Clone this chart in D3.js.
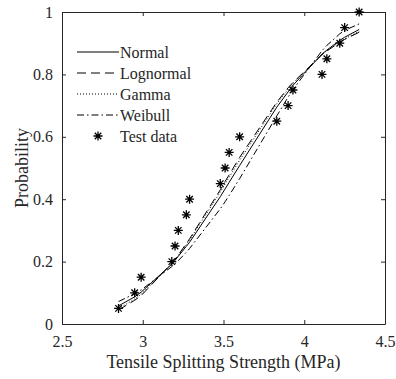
<!DOCTYPE html>
<html>
<head>
<meta charset="utf-8">
<script src="https://cdn.jsdelivr.net/npm/d3@7"></script>
<style>
  body { margin: 0; background: #fff; }
  text { font-family: "Liberation Serif", "Times New Roman", serif; fill: #262626; }
</style>
</head>
<body>
<div id="chart"></div>
<script>
// test data (strength in MPa, empirical probability)
var strength = [2.85, 2.95, 2.99, 3.18, 3.20, 3.22, 3.27, 3.29, 3.48, 3.51,
                3.535, 3.60, 3.83, 3.90, 3.93, 4.11, 4.14, 4.22, 4.25, 4.34];
var testProb = [0.05, 0.10, 0.15, 0.20, 0.25, 0.30, 0.35, 0.40, 0.45, 0.50,
                0.55, 0.60, 0.65, 0.70, 0.75, 0.80, 0.85, 0.90, 0.95, 1.00];

// fitted curves read at the same strengths
var normalProb    = [0.058, 0.087, 0.102, 0.192, 0.204, 0.217, 0.249, 0.262, 0.408, 0.433,
                     0.454, 0.508, 0.695, 0.744, 0.765, 0.865, 0.878, 0.909, 0.919, 0.944];
var lognormalProb = [0.045, 0.076, 0.091, 0.194, 0.208, 0.221, 0.258, 0.273, 0.430, 0.457,
                     0.478, 0.534, 0.711, 0.757, 0.774, 0.863, 0.875, 0.903, 0.912, 0.935];
var gammaProb     = [0.049, 0.080, 0.095, 0.194, 0.206, 0.220, 0.255, 0.269, 0.423, 0.449,
                     0.470, 0.525, 0.706, 0.753, 0.771, 0.864, 0.876, 0.905, 0.914, 0.938];
var weibullProb   = [0.072, 0.097, 0.109, 0.184, 0.193, 0.203, 0.230, 0.242, 0.369, 0.392,
                     0.412, 0.466, 0.667, 0.727, 0.751, 0.876, 0.893, 0.930, 0.941, 0.962];

var xTicks = [2.5, 3, 3.5, 4, 4.5];
var yTicks = [0, 0.2, 0.4, 0.6, 0.8, 1];

var series = [
  {name: "Normal",    values: normalProb,    dash: null},
  {name: "Lognormal", values: lognormalProb, dash: "9,5"},
  {name: "Gamma",     values: gammaProb,     dash: "1,2"},
  {name: "Weibull",   values: weibullProb,   dash: "7,3,1.5,3"}
];

var margin = {top: 12, right: 11, bottom: 55, left: 62},
    width = 396 - margin.left - margin.right,
    height = 379 - margin.top - margin.bottom;

var svg = d3.select("#chart")
  .append("svg")
    .attr("width", 396)
    .attr("height", 379)
  .append("g")
    .attr("transform", "translate(" + margin.left + "," + margin.top + ")");

var x = d3.scaleLinear().domain([2.5, 4.5]).range([0, width]);
var y = d3.scaleLinear().domain([0, 1]).range([height, 0]);

// axes, ticks pointing inward like matlab
function styleAxis(g) {
  g.select(".domain").attr("stroke", "#262626");
  g.selectAll(".tick line").attr("stroke", "#262626");
  g.selectAll(".tick text").attr("font-size", "16px").attr("fill", "#262626");
}

svg.append("g")
    .attr("transform", "translate(0," + height + ")")
    .call(d3.axisBottom(x).tickValues(xTicks).tickFormat(d3.format("")).tickSizeInner(-4).tickSizeOuter(0).tickPadding(12))
    .call(styleAxis);
svg.append("g")
    .call(d3.axisTop(x).tickValues(xTicks).tickFormat("").tickSizeInner(-4).tickSizeOuter(0))
    .call(styleAxis);
svg.append("g")
    .call(d3.axisLeft(y).tickValues(yTicks).tickFormat(d3.format("")).tickSizeInner(-4).tickSizeOuter(0).tickPadding(9))
    .call(styleAxis);
svg.append("g")
    .attr("transform", "translate(" + width + ",0)")
    .call(d3.axisRight(y).tickValues(yTicks).tickFormat("").tickSizeInner(-4).tickSizeOuter(0))
    .call(styleAxis);

// axis titles
svg.append("text")
    .attr("x", width / 2)
    .attr("y", height + 44)
    .attr("font-size", "18px")
    .style("text-anchor", "middle")
    .text("Tensile Splitting Strength (MPa)");

svg.append("text")
    .attr("transform", "rotate(-90)")
    .attr("x", -height / 2)
    .attr("y", -34)
    .attr("font-size", "18px")
    .style("text-anchor", "middle")
    .text("Probability");

// fitted lines
var line = d3.line()
  .x(function(d) { return x(d[0]); })
  .y(function(d) { return y(d[1]); });

series.forEach(function(s) {
  svg.append("path")
     .datum(d3.zip(strength, s.values))
     .attr("fill", "none")
     .attr("stroke", "#000")
     .attr("stroke-width", 1)
     .attr("stroke-dasharray", s.dash)
     .attr("d", line);
});

// asterisk marker
function star(r) {
  var d = r * 0.72;
  return "M0," + (-r) + "V" + r + "M" + (-r) + ",0H" + r +
         "M" + (-d) + "," + (-d) + "L" + d + "," + d +
         "M" + (-d) + "," + d + "L" + d + "," + (-d);
}

svg.selectAll(".pt")
  .data(d3.zip(strength, testProb))
  .enter().append("path")
    .attr("class", "pt")
    .attr("transform", function(d) { return "translate(" + x(d[0]) + "," + y(d[1]) + ")"; })
    .attr("d", star(4.5))
    .attr("stroke", "#000")
    .attr("stroke-width", 1.3)
    .attr("fill", "none");

// legend
var legendItems = series.map(function(s) { return s.name; }).concat(["Test data"]);
var legend = svg.selectAll(".legend").data(legendItems)
  .enter().append("g")
    .attr("class", "legend")
    .attr("transform", function(d, i) { return "translate(15," + (40 + i * 21) + ")"; });

legend.each(function(d, i) {
  var g = d3.select(this);
  if (i < series.length) {
    g.append("line")
      .attr("x1", 0).attr("x2", 42).attr("y1", 0).attr("y2", 0)
      .attr("stroke", "#000")
      .attr("stroke-width", 1)
      .attr("stroke-dasharray", series[i].dash);
  } else {
    g.append("path")
      .attr("transform", "translate(21,0)")
      .attr("d", star(4.5))
      .attr("stroke", "#000")
      .attr("stroke-width", 1.3);
  }
  g.append("text")
    .attr("x", 43)
    .attr("y", 5.5)
    .attr("font-size", "16px")
    .text(d);
});
</script>
</body>
</html>
